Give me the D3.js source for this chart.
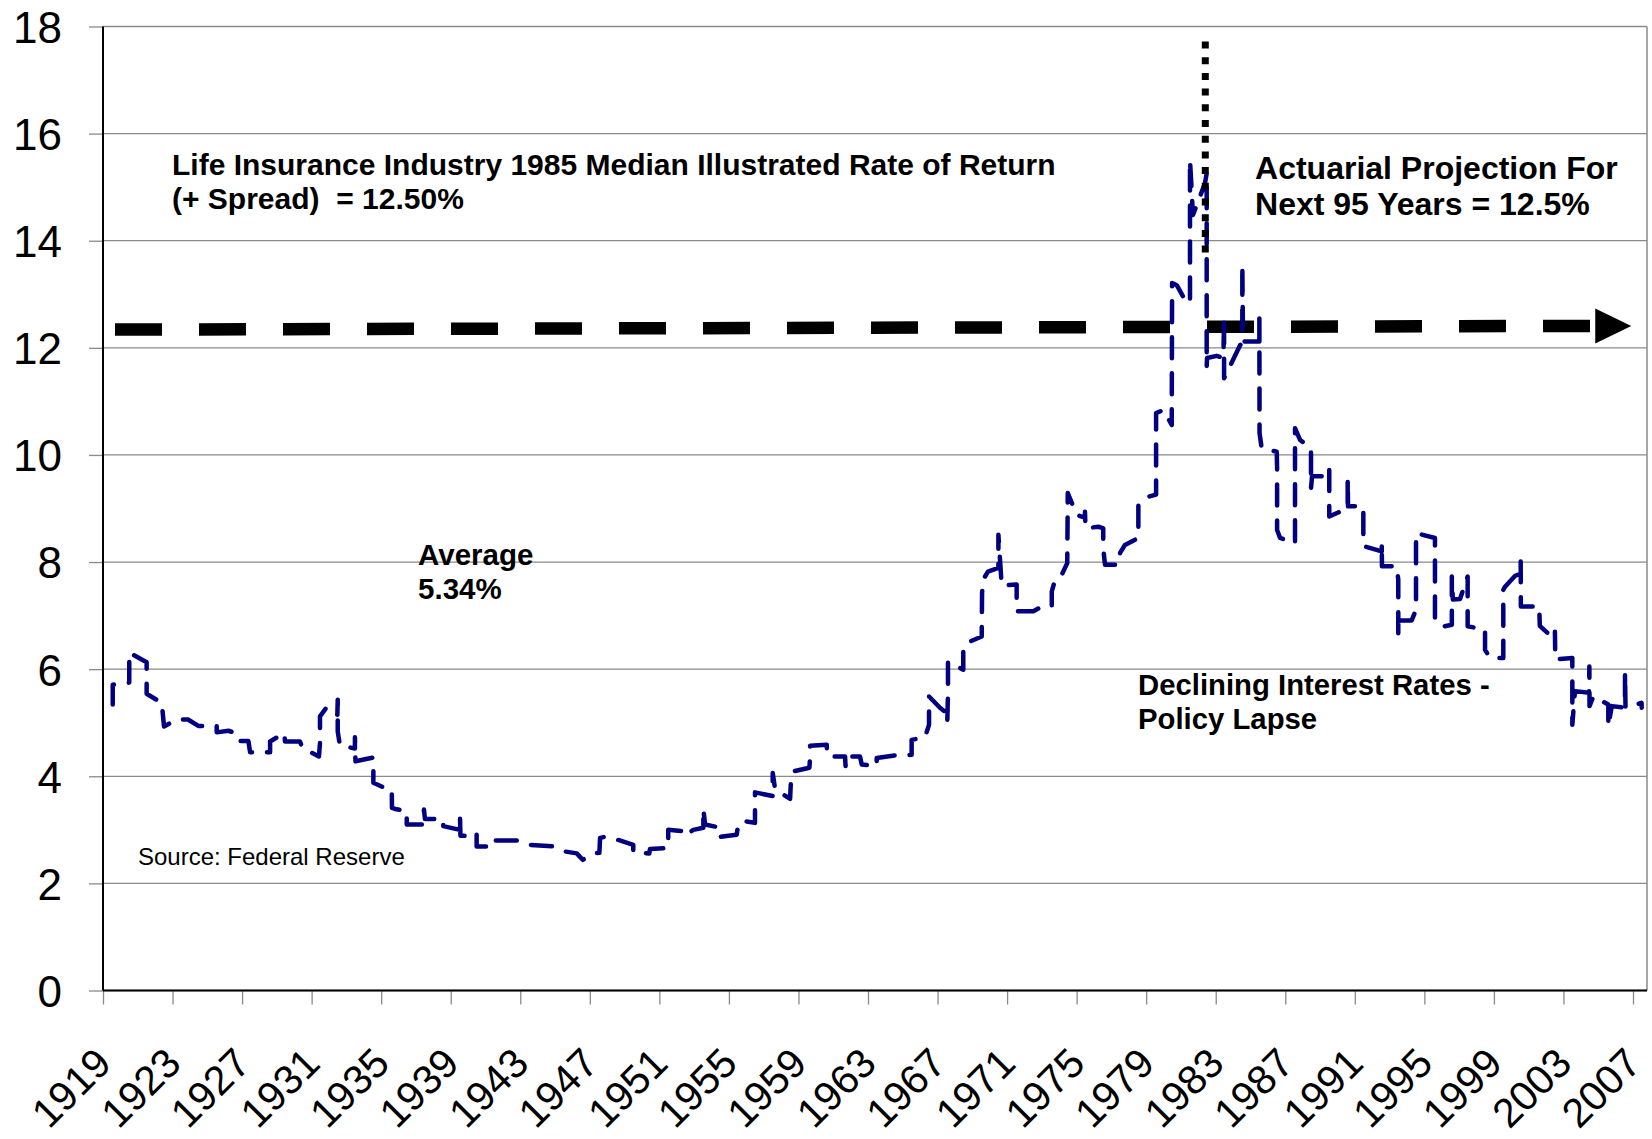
<!DOCTYPE html>
<html>
<head>
<meta charset="utf-8">
<script src="https://cdn.jsdelivr.net/npm/d3@7"></script>
<style>
  body { margin: 0; background: #fff; }
  svg { display: block; font-family: "Liberation Sans", Arial, sans-serif; }
</style>
</head>
<body>
<svg id="chart" width="1652" height="1139"></svg>
<script>
// long term bond yield (decimal year, percent)
const years = [
  1919.56,1919.56,1920.51,1920.51,1921.51,1921.51,1922.38,1922.51,1923.24,1923.89,
  1924.48,1925.54,1925.54,1926.21,1926.59,1926.76,1927.36,1927.46,1928.61,1928.61,
  1929.43,1929.47,1930.33,1930.46,1931.42,1931.48,1931.48,1931.87,1932.48,1932.50,
  1932.50,1932.63,1933.49,1933.49,1933.52,1934.55,1934.55,1935.22,1935.61,1935.62,
  1935.80,1936.47,1936.47,1937.46,1937.46,1937.52,1938.57,1938.57,1939.53,1939.53,
  1939.56,1940.01,1940.49,1940.49,1941.36,1941.40,1942.80,1943.46,1944.90,1945.48,
  1946.25,1946.59,1947.20,1947.55,1947.59,1947.87,1948.45,1949.50,1949.50,1950.42,
  1950.46,1951.51,1951.51,1952.57,1952.57,1952.95,1953.53,1953.53,1953.63,1954.49,
  1954.49,1954.97,1955.45,1955.54,1955.93,1956.50,1956.50,1957.08,1957.52,1957.52,
  1957.66,1958.52,1958.57,1958.69,1959.63,1959.67,1959.67,1960.63,1960.63,1960.70,
  1961.68,1961.71,1961.74,1962.54,1962.64,1963.50,1963.50,1964.55,1965.51,1965.51,
  1966.28,1966.51,1966.51,1967.14,1967.53,1967.56,1967.60,1967.60,1968.48,1968.48,
  1968.68,1969.54,1969.56,1969.62,1969.90,1970.50,1970.50,1970.69,1971.55,1971.55,
  1972.51,1972.89,1973.57,1973.57,1973.76,1974.14,1974.46,1974.49,1975.00,1975.48,
  1975.48,1975.51,1976.25,1976.53,1976.53,1976.63,1977.40,1977.50,1977.78,1978.55,
  1978.55,1979.12,1979.57,1979.57,1979.99,1980.47,1980.49,1980.76,1981.34,1981.52,
  1981.52,1981.69,1982.38,1982.48,1982.48,1982.50,1983.06,1983.44,1983.48,1983.48,
  1984.40,1984.53,1984.53,1984.57,1985.51,1985.51,1985.52,1985.64,1986.51,1986.53,
  1986.53,1986.70,1987.56,1987.56,1987.56,1987.85,1988.48,1988.48,1988.54,1989.38,
  1989.53,1989.53,1990.15,1990.59,1990.59,1990.61,1991.49,1991.49,1991.49,1992.55,
  1992.55,1992.56,1993.41,1993.50,1993.50,1993.54,1994.27,1994.52,1994.52,1995.61,
  1995.61,1995.61,1996.00,1996.58,1996.58,1996.64,1997.05,1997.49,1997.49,1998.49,
  1998.49,1998.78,1999.54,1999.54,1999.54,1999.64,2000.21,2000.54,2000.54,2000.55,
  2001.61,2001.62,2001.64,2002.51,2002.51,2002.53,2003.51,2003.51,2003.66,2004.47,
  2004.49,2004.50,2004.72,2005.58,2005.58,2005.78,2006.54,2006.54,2006.57,2007.49,
  2007.50
];
const rates = [
  5.34,5.71,5.75,6.31,6.13,5.54,5.37,4.93,5.06,5.06,
  4.94,4.94,4.82,4.85,4.81,4.66,4.66,4.45,4.45,4.65,
  4.81,4.65,4.65,4.53,4.37,4.62,5.12,5.29,5.15,5.43,
  4.84,4.57,4.52,4.73,4.28,4.35,3.88,3.78,3.75,3.41,
  3.39,3.35,3.10,3.10,3.38,3.20,3.20,3.07,3.00,3.27,
  2.89,2.89,2.95,2.69,2.69,2.80,2.80,2.72,2.69,2.60,
  2.56,2.44,2.56,2.57,2.85,2.87,2.83,2.72,2.58,2.56,
  2.64,2.66,3.00,2.97,2.91,3.00,3.04,3.39,3.10,3.04,
  2.87,2.89,2.91,3.12,3.16,3.13,3.70,3.66,3.63,4.06,
  3.75,3.58,3.94,4.09,4.16,4.37,4.57,4.59,4.53,4.37,
  4.37,4.19,4.37,4.37,4.22,4.19,4.34,4.39,4.40,4.68,
  4.73,4.96,5.49,5.28,5.18,5.01,5.56,6.14,5.99,6.39,
  6.49,6.61,7.42,7.67,7.82,7.89,8.51,7.56,7.58,7.08,
  7.08,7.15,7.17,7.45,7.67,7.76,7.98,9.29,8.88,8.83,
  8.94,8.63,8.66,8.63,8.26,7.95,7.95,8.17,8.32,8.45,
  9.07,9.22,9.26,10.78,10.84,10.56,13.21,13.17,12.83,12.86,
  15.51,14.48,15.07,15.26,11.65,11.81,11.85,11.81,12.58,11.43,
  12.05,12.09,13.55,12.12,12.12,12.55,10.41,10.13,10.06,9.75,
  8.60,8.45,8.35,8.73,10.50,10.28,10.13,9.38,9.60,9.60,
  9.75,8.85,8.94,9.01,9.54,9.04,9.04,8.60,8.30,8.20,
  8.35,7.92,7.92,7.67,6.64,6.91,6.91,7.11,8.54,8.45,
  8.23,6.95,6.79,6.83,7.73,7.30,7.31,7.73,6.80,6.74,
  6.36,6.21,6.21,6.58,7.48,7.54,7.74,7.79,8.01,7.17,
  7.17,7.02,6.81,6.55,6.70,6.18,6.21,4.96,5.59,5.56,
  6.05,5.31,5.49,5.34,4.93,5.31,5.28,5.93,5.28,5.37,
  5.28
];

const yTicks = [0, 2, 4, 6, 8, 10, 12, 14, 16, 18];
const xTicks = [1919, 1923, 1927, 1931, 1935, 1939, 1943, 1947, 1951, 1955, 1959, 1963,
                1967, 1971, 1975, 1979, 1983, 1987, 1991, 1995, 1999, 2003, 2007];

// the 12.5% projection arrow and the 1985 marker
const projYears = [1919.69, 2006.9];
const projRates = [12.34, 12.41];
const markYear = 1982.40;
const markRange = [13.70, 17.72];

const notes = [
  { lines: ["Life Insurance Industry 1985 Median Illustrated Rate of Return", "(+ Spread)  = 12.50%"], year: 1922.97, rate: 15.23, size: 30, lead: 34 },
  { lines: ["Actuarial Projection For", "Next 95 Years = 12.5%"], year: 1985.26, rate: 15.15, size: 32, lead: 36 },
  { lines: ["Average", "5.34%"], year: 1937.12, rate: 7.94, size: 29.5, lead: 34 },
  { lines: ["Declining Interest Rates -", "Policy Lapse"], year: 1978.53, rate: 5.52, size: 29.3, lead: 34 }
];

const svg = d3.select("#chart");
svg.append("rect").attr("width", 1652).attr("height", 1139).attr("fill", "#fff");

const x = d3.scaleLinear().domain([1919, 2007]).range([103, 1633]);
const y = d3.scaleLinear().domain([0, 18]).range([990.5, 26.5]);
const plotLeft = x(1919), plotRight = 1647;

// gridlines
svg.append("g")
    .selectAll("line")
    .data(yTicks)
    .join("line")
    .attr("x1", plotLeft)
    .attr("x2", plotRight)
    .attr("y1", d => y(d))
    .attr("y2", d => y(d))
    .attr("stroke", "#8a8a8a")
    .attr("stroke-width", 1.3);

// right border
svg.append("line")
    .attr("x1", plotRight).attr("x2", plotRight)
    .attr("y1", y(18)).attr("y2", y(0))
    .attr("stroke", "#8a8a8a")
    .attr("stroke-width", 1.5);

// y axis
const yAxis = svg.append("g")
    .attr("transform", `translate(${plotLeft},0)`)
    .call(d3.axisLeft(y).tickValues(yTicks).tickSize(14).tickPadding(27));
yAxis.select(".domain").remove();
yAxis.selectAll(".tick line").attr("stroke", "#8a8a8a").attr("stroke-width", 1.3);
yAxis.attr("font-size", 44).attr("font-family", "Liberation Sans, Arial, sans-serif");
yAxis.selectAll("text").attr("fill", "#000").attr("dy", "0.36em");

// x axis
const xAxis = svg.append("g")
    .attr("transform", `translate(0,${y(0)})`)
    .call(d3.axisBottom(x).tickValues(xTicks).tickSize(14).tickFormat(d3.format("d")));
xAxis.select(".domain").remove();
xAxis.selectAll(".tick line").attr("stroke", "#8a8a8a").attr("stroke-width", 1.3);
xAxis.attr("font-size", 41).attr("font-family", "Liberation Sans, Arial, sans-serif");
xAxis.selectAll("text")
    .attr("fill", "#000")
    .attr("x", 0).attr("y", 0).attr("dy", 0)
    .attr("text-anchor", "end")
    .attr("transform", "translate(10,75) rotate(-45)");

// axis lines
svg.append("line")
    .attr("x1", plotLeft).attr("x2", plotLeft)
    .attr("y1", y(18)).attr("y2", y(0))
    .attr("stroke", "#000").attr("stroke-width", 2);
svg.append("line")
    .attr("x1", plotLeft).attr("x2", plotRight)
    .attr("y1", y(0)).attr("y2", y(0))
    .attr("stroke", "#000").attr("stroke-width", 2);

// projection line with arrow head
const tip = [x(projYears[1]), y(projRates[1])];
const headLen = 36, headHalf = 17.5;
svg.append("line")
    .attr("x1", x(projYears[0])).attr("y1", y(projRates[0]))
    .attr("x2", tip[0] - headLen).attr("y2", tip[1])
    .attr("stroke", "#000")
    .attr("stroke-width", 12.5)
    .attr("stroke-dasharray", "47 37");
svg.append("path")
    .attr("d", `M${tip[0]},${tip[1]}L${tip[0] - headLen},${tip[1] - headHalf}L${tip[0] - headLen},${tip[1] + headHalf}Z`)
    .attr("fill", "#000");

// yield series
const line = d3.line()
    .x(i => x(years[i]))
    .y(i => y(rates[i]));
svg.append("path")
    .datum(d3.range(years.length))
    .attr("d", line)
    .attr("fill", "none")
    .attr("stroke", "#000080")
    .attr("stroke-width", 4.5)
    .attr("stroke-linecap", "round")
    .attr("stroke-linejoin", "round")
    .attr("stroke-dasharray", "21 15");

// dotted marker at the peak
svg.append("line")
    .attr("x1", x(markYear)).attr("x2", x(markYear))
    .attr("y1", y(markRange[1])).attr("y2", y(markRange[0]))
    .attr("stroke", "#000")
    .attr("stroke-width", 7)
    .attr("stroke-dasharray", "7 8.7");

// annotations
notes.forEach(n => {
    const t = svg.append("text")
        .attr("x", x(n.year))
        .attr("y", y(n.rate))
        .attr("font-size", n.size)
        .attr("font-weight", "bold")
        .attr("fill", "#000");
    n.lines.forEach((s, i) => {
        t.append("tspan")
            .attr("x", x(n.year))
            .attr("dy", i === 0 ? 0 : n.lead)
            .style("white-space", "pre")
            .text(s);
    });
});

svg.append("text")
    .attr("x", x(1921.01))
    .attr("y", y(2.34))
    .attr("font-size", 24)
    .attr("fill", "#000")
    .text("Source: Federal Reserve");
</script>
</body>
</html>
